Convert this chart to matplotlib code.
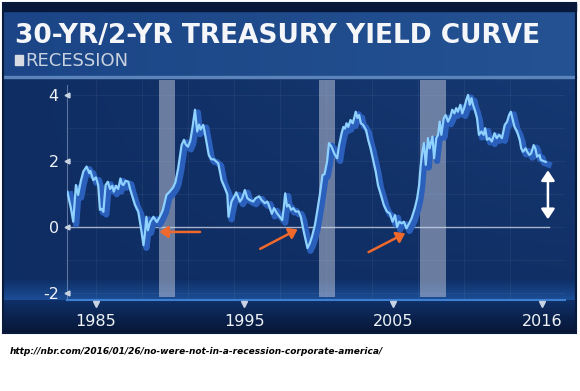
import matplotlib
matplotlib.use('Agg')
import matplotlib.pyplot as plt, numpy as np
from matplotlib.patches import Rectangle, FancyArrowPatch

plt.rcParams['font.family'] = ['DejaVu Sans']

# 30-yr minus 2-yr treasury spread
years = [1983.07, 1983.30, 1983.47, 1983.65, 1983.80, 1983.97, 1984.15, 1984.37, 1984.55, 1984.62,
		 1984.82, 1985.00, 1985.15, 1985.27, 1985.38, 1985.50, 1985.65, 1985.80, 1985.95, 1986.10,
		 1986.20, 1986.35, 1986.50, 1986.65, 1986.75, 1986.85, 1987.00, 1987.18, 1987.30, 1987.63,
		 1987.85, 1987.96, 1988.07, 1988.20, 1988.30, 1988.40, 1988.50, 1988.65, 1988.87, 1989.10,
		 1989.30, 1989.50, 1989.75, 1989.97, 1990.20, 1990.35, 1990.54, 1990.77, 1990.93, 1991.05,
		 1991.20, 1991.35, 1991.50, 1991.67, 1991.82, 1991.95, 1992.05, 1992.23, 1992.40, 1992.60,
		 1992.77, 1992.93, 1993.24, 1993.46, 1993.70, 1993.85, 1993.93, 1994.13, 1994.35, 1994.45,
		 1994.70, 1994.85, 1995.03, 1995.20, 1995.35, 1995.60, 1995.75, 1996.00, 1996.15, 1996.38,
		 1996.55, 1996.72, 1996.85, 1997.00, 1997.22, 1997.40, 1997.55, 1997.65, 1997.75, 1997.87,
		 1998.00, 1998.15, 1998.30, 1998.45, 1998.65, 1998.80, 1999.00, 1999.25, 1999.40, 1999.55,
		 1999.75, 1999.90, 2000.08, 2000.26, 2000.40, 2000.57, 2000.70, 2000.86, 2000.95, 2001.08,
		 2001.25, 2001.38, 2001.55, 2001.67, 2001.78, 2001.88, 2002.00, 2002.15, 2002.30, 2002.42,
		 2002.50, 2002.62, 2002.73, 2002.85, 2003.00, 2003.20, 2003.34, 2003.50, 2003.67, 2003.85,
		 2004.00, 2004.20, 2004.39, 2004.60, 2004.80, 2004.98, 2005.15, 2005.29, 2005.43, 2005.60,
		 2005.75, 2005.92, 2006.10, 2006.26, 2006.48, 2006.64, 2006.77, 2006.88, 2007.00, 2007.10,
		 2007.22, 2007.37, 2007.48, 2007.67, 2007.78, 2007.93, 2008.05, 2008.16, 2008.27, 2008.43,
		 2008.56, 2008.72, 2008.88, 2009.00, 2009.15, 2009.27, 2009.38, 2009.55, 2009.68, 2009.84,
		 2009.95, 2010.07, 2010.18, 2010.30, 2010.40, 2010.52, 2010.67, 2010.80, 2010.97, 2011.12,
		 2011.22, 2011.35, 2011.50, 2011.67, 2011.85, 2012.00, 2012.17, 2012.35, 2012.54, 2012.70,
		 2012.83, 2012.95, 2013.05, 2013.20, 2013.37, 2013.55, 2013.65, 2013.77, 2013.95, 2014.05,
		 2014.20, 2014.32, 2014.49, 2014.60, 2014.72, 2014.88, 2014.97, 2015.13, 2015.30]
spread = [1.07, 0.60, 0.16, 1.27, 0.97, 1.37, 1.68, 1.83, 1.63, 1.70,
		  1.42, 1.50, 1.27, 0.52, 0.55, 0.46, 1.27, 1.37, 1.15, 1.25,
		  1.07, 1.25, 1.15, 1.47, 1.30, 1.27, 1.40, 1.37, 1.15, 0.67,
		  0.47, 0.16, -0.14, -0.55, -0.20, 0.31, -0.10, 0.15, 0.31, 0.15,
		  0.31, 0.50, 0.97, 1.07, 1.20, 1.35, 1.78, 2.48, 2.64, 2.50,
		  2.43, 2.60, 3.00, 3.55, 2.89, 3.10, 2.95, 3.09, 2.69, 2.18,
		  2.05, 2.05, 1.93, 1.42, 1.17, 0.99, 0.31, 0.77, 0.95, 1.05,
		  0.77, 0.87, 1.12, 0.87, 0.82, 0.77, 0.87, 0.93, 0.82, 0.72,
		  0.77, 0.57, 0.40, 0.57, 0.40, 0.30, 0.21, 0.57, 1.02, 0.62,
		  0.67, 0.52, 0.57, 0.47, 0.47, 0.31, -0.14, -0.64, -0.50, -0.30,
		  0.06, 0.46, 0.97, 1.57, 1.60, 1.98, 2.54, 2.44, 2.34, 2.20,
		  2.08, 2.48, 2.84, 3.03, 2.98, 3.14, 3.03, 3.24, 3.14, 3.34,
		  3.49, 3.30, 3.39, 3.14, 3.09, 2.93, 2.64, 2.38, 2.03, 1.67,
		  1.27, 0.97, 0.67, 0.47, 0.41, 0.16, 0.36, 0.00, 0.16, 0.11,
		  0.16, -0.04, 0.11, 0.26, 0.57, 0.87, 1.27, 1.88, 2.30, 2.54,
		  1.88, 2.69, 2.38, 2.74, 2.08, 2.69, 2.79, 3.19, 2.79, 3.29,
		  3.39, 3.19, 3.34, 3.55, 3.44, 3.60, 3.49, 3.70, 3.44, 3.65,
		  3.85, 4.00, 3.70, 3.90, 3.70, 3.55, 3.30, 2.79, 2.89, 2.79,
		  2.99, 2.64, 2.69, 2.59, 2.84, 2.69, 2.79, 2.69, 3.09, 3.19,
		  3.39, 3.49, 3.30, 3.03, 2.89, 2.64, 2.38, 2.28, 2.38, 2.28,
		  2.18, 2.23, 2.48, 2.38, 2.13, 2.18, 2.03, 2.00, 1.97]

recessions = [(1989.26, 1990.32), (2000.02, 2001.09), (2006.82, 2008.60)]
# orange arrows: (tail, head) in (year, spread)
orange_arrows = [((1992.2, -0.15), (1989.1, -0.15)),
				 ((1995.9, -0.70), (1998.75, -0.03)),
				 ((2003.2, -0.80), (2006.0, -0.15))]
gap_arrow = (2015.45, 1.80, 0.15)
ytick_vals = [-2, 0, 2, 4]
xtick_pos = [1985, 1995, 2005, 2015.05]
xtick_labels = ['1985', '1995', '2005', '2016']

pal = {'navy': '#0e2b60', 'band': '#1e4a8a', 'light': '#8fd2ff', 'dark': '#2a5fbb',
	   'orange': '#f0692c', 'white': '#eef3f8'}

fig = plt.figure(figsize=(5.8, 3.91), dpi=100, facecolor='white')

# background panel drawn in pixel coordinates
bg = fig.add_axes([0, 0, 1, 1])
bg.set_xlim(0, 580)
bg.set_ylim(391, 0)
bg.axis('off')
g = np.linspace(0, 1, 256)
xx, yy = np.meshgrid(g, g)
base = np.array([0x0d, 0x2a, 0x5e]) / 255.0
lite = np.array([0x1a, 0x3f, 0x7c]) / 255.0
mix = np.clip(0.55 * xx * (1 - yy) + 0.15, 0, 1)[..., None]
panel = base * (1 - mix) + lite * mix
bg.imshow(panel, extent=(3, 576, 333, 78), aspect='auto', zorder=0)
# title band
tb = np.linspace(0, 1, 256)[None, :, None]
tcol = np.array([0x1b, 0x45, 0x86]) / 255.0 * (1 - tb) + np.array([0x24, 0x52, 0x92]) / 255.0 * tb
bg.imshow(np.repeat(tcol, 4, axis=0), extent=(3, 576, 78, 10), aspect='auto', zorder=1)
bg.add_patch(Rectangle((3, 3), 573, 8, color='#07183a', zorder=2))
bg.add_patch(Rectangle((3, 76), 573, 2, color='#5b84bb', zorder=2))
# glow above the x axis and dark strip below it
fade = np.linspace(0, 1, 64)[:, None, None]
glow = np.array([0x0f, 0x30, 0x68]) / 255.0 * (1 - fade) + np.array([0x1c, 0x4e, 0x96]) / 255.0 * fade
bg.imshow(np.repeat(glow, 4, axis=1), extent=(3, 576, 300, 280), aspect='auto', zorder=1)
strip = np.array([0x10, 0x30, 0x68]) / 255.0 * (1 - fade) + np.array([0x07, 0x16, 0x36]) / 255.0 * fade
bg.imshow(np.repeat(strip, 4, axis=1), extent=(3, 576, 333, 300), aspect='auto', zorder=1)
bg.add_patch(Rectangle((3, 3), 573, 330, fill=False, ec='#0a1a3a', lw=1.5, zorder=3))

bg.text(15, 36, '30-YR/2-YR TREASURY YIELD CURVE', color='#f4f6f9', fontsize=19,
		fontweight='bold', va='center', ha='left', zorder=4)
bg.add_patch(Rectangle((15, 55), 8, 10, color='#d8dce2', zorder=4))
bg.text(25, 61, 'RECESSION', color='#c8d2e0', fontsize=13, va='center', ha='left', zorder=4)
bg.text(10, 352, 'http://nbr.com/2016/01/26/no-were-not-in-a-recession-corporate-america/',
		color='black', fontsize=6.5, fontweight='bold', style='italic', va='center', ha='left')

# chart axes
ax = fig.add_axes([67 / 580, 1 - 300 / 391, (565 - 67) / 580, (300 - 80) / 391])
ax.set_facecolor('none')
ax.set_xlim(1983.05, 2016.6)
ax.set_ylim(-2.21, 4.45)

for yv in np.arange(-2, 5, 1):
	ax.axhline(yv, color='white', alpha=0.05, lw=0.8, zorder=1)
for xv in np.arange(1985, 2016, 3.1):
	ax.axvline(xv, color='white', alpha=0.05, lw=0.8, zorder=1)

for a, b in recessions:
	ax.axvspan(a, b, ymin=0.015, ymax=1.0, color='#c4cadb', alpha=0.5, lw=0, zorder=2)

ax.plot([1983.05, 2015.5], [0, 0], color='#c9d3e3', lw=1.0, alpha=0.8, zorder=3)

yr = np.array(years)
sp = np.array(spread)
ax.plot(yr + 0.2, sp - 0.08, color=pal['dark'], lw=4.5, solid_joinstyle='round', zorder=4)
ax.plot(yr, sp, color=pal['light'], lw=1.6, zorder=5)

for tail, head in orange_arrows:
	ax.add_patch(FancyArrowPatch(tail, head, arrowstyle='-|>,head_length=5,head_width=3.5',
								 color=pal['orange'], lw=1.8, zorder=6))
gx, gtop, gbot = gap_arrow
ax.add_patch(FancyArrowPatch((gx, gbot), (gx, gtop), arrowstyle='<|-|>,head_length=6,head_width=4',
							 color='white', lw=1.8, zorder=6))

for s in ['top', 'right']:
	ax.spines[s].set_visible(False)
ax.spines['left'].set_color('#8fa6c8')
ax.spines['left'].set_alpha(0.6)
ax.spines['left'].set_bounds(-2.21, 4.3)
ax.spines['bottom'].set_color('#3d7fd0')
ax.spines['bottom'].set_linewidth(1.5)

ax.set_yticks(ytick_vals)
ax.set_yticklabels([str(v) for v in ytick_vals])
ax.set_xticks(xtick_pos)
ax.set_xticklabels(xtick_labels)
ax.tick_params(axis='both', length=0, colors=pal['white'], labelsize=11.5)
ax.tick_params(axis='y', pad=6)
ax.tick_params(axis='x', pad=10)
for v in ytick_vals:
	ax.plot(1983.05, v, marker='<', ms=3.5, color='#c9d3e3', clip_on=False, zorder=6)
for v in xtick_pos:
	ax.plot(v, -2.32, marker='v', ms=4.5, color='#c9d3e3', clip_on=False, zorder=6)

fig.savefig('out.png', dpi=100, facecolor='white')
